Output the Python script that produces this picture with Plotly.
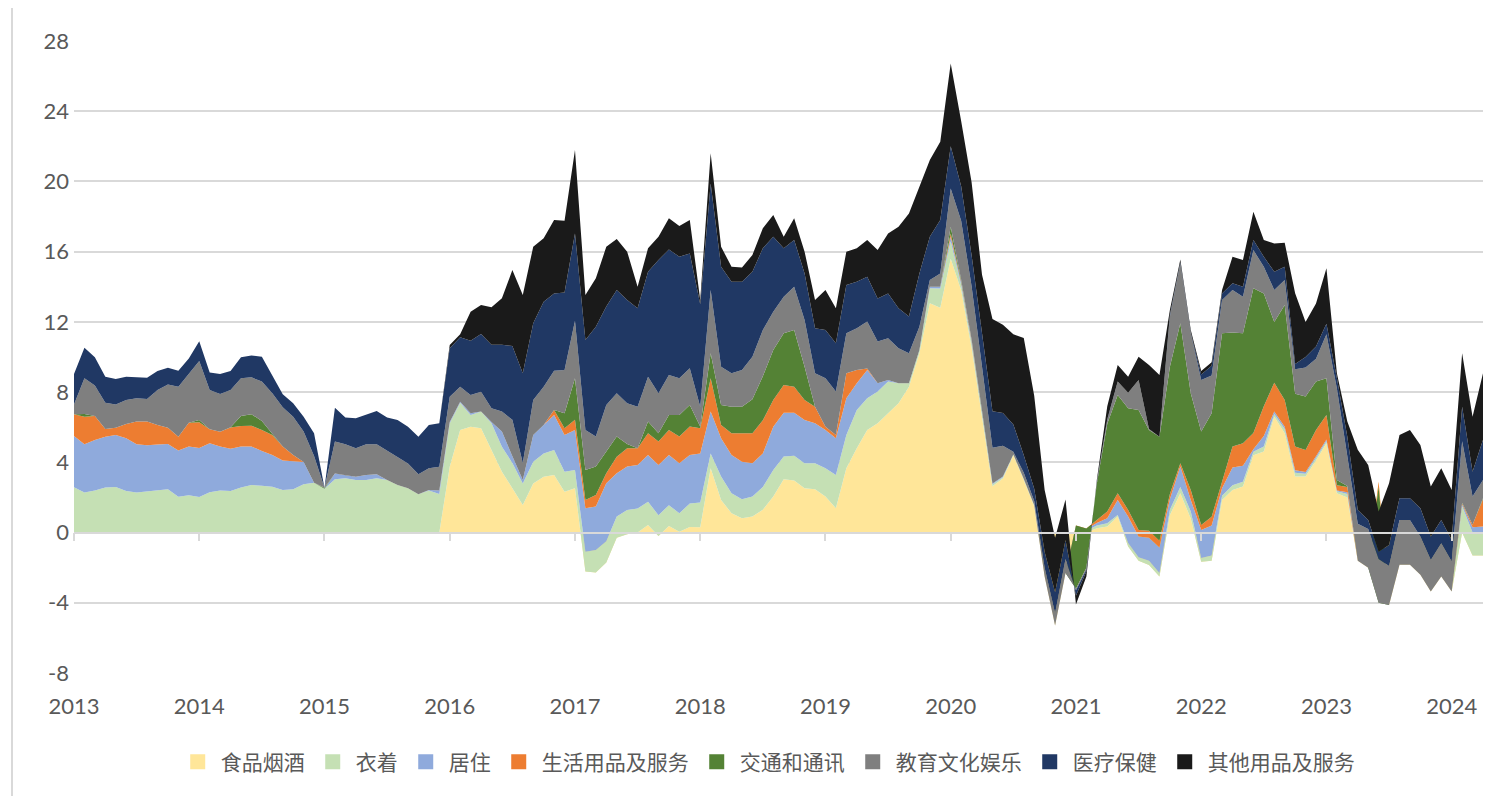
import plotly.graph_objects as go

# ---------------- data (monthly, 2013-01 .. 2024-04) ----------------
months = [f"{y}-{m:02d}" for y in range(2013, 2025) for m in range(1, 13)][:136]
year_labels = ["2013", "2014", "2015", "2016", "2017", "2018", "2019", "2020", "2021", "2022", "2023", "2024"]
y_ticks = [-8, -4, 0, 4, 8, 12, 16, 20, 24, 28]
y_tick_labels = ["-8", "-4", "0", "4", "8", "12", "16", "20", "24", "28"]

names = ["食品烟酒", "衣着", "居住", "生活用品及服务", "交通和通讯", "教育文化娱乐", "医疗保健", "其他用品及服务"]
colors = ["#FFE699", "#C5E0B4", "#8FAADC", "#ED7D31", "#548235", "#7F7F7F", "#203864", "#1A1A1A"]

food = [
    0, 0, 0, 0, 0, 0, 0, 0, 0, 0,
    0, 0, 0, 0, 0, 0, 0, 0, 0, 0,
    0, 0, 0, 0, 0, 0, 0, 0, 0, 0,
    0, 0, 0, 0, 0, 0, 3.75, 5.84, 6.03, 5.94,
    4.70, 3.47, 2.52, 1.57, 2.80, 3.18, 3.28, 2.33, 2.52, -2.22,
    -2.27, -1.70, -0.30, -0.10, 0, 0.43, -0.20, 0.38, 0.05, 0.32,
    0.30, 3.66, 1.86, 1.10, 0.82, 0.91, 1.30, 2.05, 3.04, 2.96,
    2.52, 2.47, 2.05, 1.39, 3.66, 4.80, 5.84, 6.22, 6.79, 7.36,
    8.31, 10.21, 13.06, 12.80, 15.60, 13.80, 10.53, 6.59, 2.64, 3.08,
    4.40, 3.00, 1.50, -2.50, -5.30, -2.30, 0, 0, 0.25, 0.34,
    0.91, -0.80, -1.60, -1.85, -2.50, 1.00, 2.24, 0.80, -1.66, -1.60,
    1.86, 2.43, 2.62, 4.40, 4.61, 6.60, 5.65, 3.20, 3.20, 4.10,
    5.08, 2.24, 2.00, -1.60, -2.00, 2.90, -4.12, -1.84, -1.84, -2.41,
    -3.36, -2.50, -3.36, 0, -1.30, -1.30,
]
clothing = [
    2.58, 2.28, 2.39, 2.56, 2.60, 2.37, 2.28, 2.33, 2.37, 2.46,
    2.04, 2.12, 2.02, 2.29, 2.39, 2.37, 2.56, 2.71, 2.67, 2.61,
    2.43, 2.46, 2.75, 2.84, 2.50, 3.03, 3.09, 3.00, 3.00, 3.09,
    3.00, 2.71, 2.52, 2.18, 2.39, 2.20, 2.47, 1.56, 0.67, 0.95,
    1.52, 1.42, 1.44, 1.23, 1.24, 1.32, 1.42, 1.14, 1.04, 1.13,
    1.27, 1.20, 1.21, 1.38, 1.37, 1.32, 1.19, 1.18, 1.05, 1.33,
    1.41, 0.85, 1.33, 1.14, 1.08, 1.14, 1.30, 1.52, 1.29, 1.41,
    1.43, 1.48, 1.61, 1.89, 1.90, 2.18, 1.81, 1.81, 1.81, 1.14,
    0.19, 0.19, 0.85, 1.10, 1.00, 0.30, 0.27, 0.21, 0.11, 0.07,
    0.05, 0.05, 0.05, 0, 0, 0, 0.20, 0.10, 0.15, 0.19,
    0.09, 0.20, 0.20, 0.25, 0.20, 0.30, 0.36, 0.40, 0.21, 0.30,
    0.24, 0.27, 0.28, 0.20, 0.29, 0.15, 0.25, 0.20, 0.15, 0.15,
    0.12, 0.11, 0.20, 0, 0, 0, 0, 0, 0, 0,
    0, 0, 0, 1.50, 1.30, 1.30,
]
housing = [
    2.92, 2.75, 2.88, 2.90, 2.96, 3.00, 2.75, 2.64, 2.64, 2.59,
    2.63, 2.78, 2.80, 2.80, 2.51, 2.41, 2.34, 2.19, 1.98, 1.81,
    1.67, 1.58, 1.27, 0, 0, 0.34, 0.19, 0.18, 0.28, 0.23,
    0, 0, 0, 0, 0.04, 0.19, 0.08, 0.05, 0.10, 0,
    0.08, 0.86, 0.39, 0.20, 1.52, 1.62, 2.00, 2.09, 2.28, 2.47,
    2.48, 3.31, 2.47, 2.48, 2.48, 2.67, 2.86, 2.86, 2.85, 2.77,
    2.80, 2.38, 2.18, 2.18, 2.14, 1.90, 1.90, 2.46, 2.50, 2.46,
    2.46, 2.27, 2.18, 2.09, 2.09, 1.52, 1.61, 0.47, 0.09, 0,
    0, 0, 0.09, 0.10, 0.25, 0.15, 0.10, 0.05, 0.05, 0.05,
    0, 0, 0, 0, 0, 0, 0.15, 0.10, 0.15, 0.29,
    0.86, 1.51, 1.17, 1.30, 1.45, 0.60, 1.16, 0.66, 1.60, 1.70,
    0.42, 1.00, 0.90, 0.15, 0.60, 0.15, 0.13, 0.15, 0.10, 0.10,
    0.10, 0.05, 0.10, 0, 0, 0, 0, 0, 0, 0,
    0, 0, 0, 0.10, 0.30, 0.35,
]
daily_goods = [
    1.24, 1.57, 1.37, 0.44, 0.41, 0.81, 1.29, 1.35, 1.11, 0.92,
    0.79, 1.36, 1.46, 0.79, 0.84, 1.21, 1.17, 1.19, 1.19, 1.14,
    0.80, 0.38, 0, 0, 0, 0, 0, 0, 0, 0,
    0, 0, 0, 0, 0, 0, 0, 0, 0, 0,
    0, 0, 0, 0, 0, 0, 0.28, 0.38, 0.58, 0.48,
    0.66, 0.57, 0.94, 1.04, 0.95, 1.24, 1.33, 1.42, 1.52, 1.62,
    1.43, 1.90, 0.76, 1.24, 1.62, 1.71, 1.90, 1.52, 1.58, 1.48,
    1.14, 0.95, 0.19, 0.19, 1.42, 0.76, 0.09, 0, 0, 0,
    0, 0, 0, 0, 0.19, 0.05, 0.05, 0.05, 0, 0,
    0, 0, 0, 0, 0, 0, 0.05, 0.03, 0.15, 0.38,
    0.38, 0.38, 0.38, 0.40, 0.39, 0.30, 0.19, 0.57, 0.28, 0.50,
    0.38, 1.20, 1.29, 0.92, 1.70, 1.63, 1.52, 1.35, 1.25, 1.49,
    1.40, 0.30, 0.30, 0, 0, -0.30, 0, 0, 0, 0,
    0, 0, 0, 0.05, 0.15, 1.55,
]
transport = [
    0, 0.16, 0, 0, 0, 0, 0, 0, 0, 0,
    0, 0, 0.13, 0, 0, 0.01, 0.57, 0.65, 0.52, 0.09,
    0, 0, 0, 0, 0.05, 0, 0, 0, 0, 0,
    0, 0, 0, 0, 0, 0, 0, 0, 0, 0,
    0, 0, 0, 0, 0, 0, 0, 0.85, 2.37, 1.70,
    1.62, 1.22, 1.15, 0.25, 0, 0.66, 0.48, 0.86, 1.23, 1.23,
    0.10, 1.42, 1.14, 1.51, 1.51, 1.94, 2.50, 2.85, 2.94, 3.23,
    1.90, 0, 0, 0, 0, 0, 0, 0, 0, 0,
    0, 0, 0, 0, 0.38, 0.10, 0.05, 0.05, 0, 0,
    0, 0, 0, 0, 0, 0, -3.60, -2.23, 2.10, 5.00,
    5.60, 5.79, 6.83, 5.74, 5.92, 7.25, 7.97, 5.50, 5.32, 5.89,
    8.45, 6.50, 6.26, 8.24, 6.42, 3.47, 5.41, 3.00, 3.05, 2.76,
    2.09, 0.30, 0.05, 0, 0, -6.60, 0, 0, 0, 0,
    0, 0, 0, 0.05, 0, 0.05,
]
education = [
    0.56, 2.03, 1.73, 1.50, 1.33, 1.37, 1.33, 1.29, 2.00, 2.47,
    2.85, 2.77, 3.36, 2.24, 2.15, 2.12, 2.15, 2.10, 2.24, 2.28,
    2.24, 2.18, 1.73, 1.52, 0, 1.81, 1.75, 1.62, 1.75, 1.71,
    1.65, 1.61, 1.42, 1.14, 1.23, 1.36, 1.44, 0.86, 1.03, 1.13,
    0.78, 1.14, 2.07, 0.96, 1.99, 2.19, 2.24, 2.47, 3.28, 2.28,
    1.71, 2.67, 2.46, 2.31, 2.37, 2.56, 2.27, 2.28, 2.09, 2.09,
    1.13, 3.61, 2.18, 1.90, 2.09, 2.42, 2.64, 2.18, 2.08, 2.46,
    2.66, 1.90, 2.76, 2.47, 2.28, 2.38, 2.67, 2.38, 2.38, 2.00,
    1.71, 1.33, 0.38, 0.76, 2.18, 3.36, 3.03, 2.49, 2.03, 1.74,
    0.15, 0.35, 0.25, 0.50, 0.70, 0.80, -0.10, -0.10, 0.05, 0.20,
    0.76, 0.89, 1.71, 0.06, 0, 2.85, 3.41, 3.42, 2.94, 2.16,
    1.89, 2.41, 2.08, 2.18, 1.52, 1.81, 1.42, 1.40, 1.65, 1.30,
    2.51, 5.20, 1.65, 2.10, 2.20, 2.50, 2.22, 2.56, 2.56, 2.18,
    1.80, 1.89, 1.71, 3.50, 1.60, 1.04,
]
medical = [
    1.73, 1.74, 1.61, 1.48, 1.45, 1.33, 1.19, 1.21, 1.08, 0.95,
    0.91, 0.89, 1.13, 0.99, 1.14, 1.08, 1.19, 1.24, 1.42, 1.05,
    0.74, 0.76, 0.85, 1.29, 0, 1.93, 1.52, 1.71, 1.70, 1.89,
    1.90, 2.09, 2.09, 2.14, 2.46, 2.47, 2.76, 2.81, 3.10, 3.29,
    3.62, 3.81, 4.20, 5.11, 4.37, 4.84, 4.40, 4.42, 4.97, 5.13,
    6.26, 5.60, 5.89, 5.89, 5.60, 5.98, 7.59, 7.15, 6.92, 6.54,
    5.83, 6.07, 5.69, 5.22, 5.03, 4.84, 4.65, 4.27, 2.76, 2.66,
    2.65, 2.57, 2.75, 2.75, 2.75, 2.65, 2.55, 2.45, 2.55, 2.27,
    2.09, 3.03, 2.47, 3.04, 2.40, 1.97, 1.76, 1.97, 2.08, 1.87,
    1.56, 1.00, 0.70, 0.90, 1.20, 1.08, -0.30, -0.10, 0.05, 0.05,
    0, 0, 0, 0, 0, 0.10, 0.07, 0.05, 0.31, 0.55,
    0.38, 0.39, 0.57, 0.57, 0.57, 1.05, 0.76, 0.30, 0.60, 0.70,
    0.60, 0.60, 1.16, 0.79, 0.52, 0.41, 1.19, 1.24, 1.24, 1.61,
    1.33, 1.33, 1.23, 1.97, 1.42, 2.29,
]
other = [
    0, 0, 0, 0, 0, 0, 0, 0, 0, 0,
    0, 0, 0, 0, 0, 0, 0, 0, 0, 0,
    0, 0, 0, 0, 0, 0, 0, 0, 0, 0,
    0, 0, 0, 0, 0, 0, 0.18, 0.18, 1.65, 1.65,
    2.14, 2.64, 4.33, 4.46, 4.36, 3.61, 4.18, 4.08, 4.75, 2.56,
    2.75, 3.41, 2.90, 2.75, 1.23, 1.33, 1.33, 1.77, 1.75, 1.90,
    0.25, 1.71, 1.14, 0.85, 0.81, 0.95, 1.14, 1.24, 0.66, 1.24,
    1.24, 1.60, 2.27, 1.99, 1.90, 1.90, 2.09, 2.77, 3.42, 4.65,
    5.88, 4.94, 4.37, 4.46, 4.72, 3.72, 4.16, 3.28, 5.26, 5.03,
    5.14, 6.68, 5.29, 3.53, 3.10, 2.30, -0.50, -0.30, 0.10, 0.75,
    0.94, 0.91, 1.33, 3.64, 3.52, 0.28, 0.16, 0.14, 0.20, 0.20,
    0.19, 1.51, 1.52, 1.62, 0.95, 1.61, 1.37, 4.03, 2.00, 2.45,
    3.15, 0.27, 0.86, 3.42, 3.13, 2.29, 3.52, 3.59, 3.88, 3.61,
    2.85, 2.94, 2.84, 3.04, 3.13, 3.79,
]

series = [food, clothing, housing, daily_goods, transport, education, medical, other]

# ---------------- figure ----------------
x = list(range(len(months)))
year_pos = [months.index(f"{y}-01") for y in year_labels]

GRID = "#D9D9D9"
TEXT = "#595959"

fig = go.Figure()
for name, vals, col in zip(names, series, colors):
    fig.add_trace(go.Scatter(
        x=x, y=vals, name=name, stackgroup="one", mode="lines",
        line=dict(width=0, color=col), fillcolor=col,
        showlegend=False, hoverinfo="skip",
    ))

# legend swatches (square markers)
for name, col in zip(names, colors):
    fig.add_trace(go.Scatter(
        x=[None], y=[None], name=name, mode="markers",
        marker=dict(symbol="square", size=15, color=col),
        showlegend=True, hoverinfo="skip",
    ))

# helper trace so the axis line with tick marks is drawn at y = 0
fig.add_trace(go.Scatter(x=[None], y=[None], xaxis="x2", showlegend=False, hoverinfo="skip"))

# the page adds an 8 px body margin, so the figure is 8 px smaller and margins are shifted
fig.update_layout(
    width=1495, height=788,
    margin=dict(l=66, r=20, t=33, b=123),
    paper_bgcolor="white", plot_bgcolor="white",
    font=dict(family="Lato, 'Noto Sans CJK SC', sans-serif", color=TEXT),
    xaxis=dict(
        type="linear", range=[0, len(months) - 1],
        tickvals=year_pos, ticktext=year_labels,
        showgrid=False, zeroline=False, showline=False, ticks="",
        tickfont=dict(size=22, color=TEXT, family="Lato"),
        ticklabelstandoff=18,
    ),
    xaxis2=dict(
        type="linear", range=[0, len(months) - 1], overlaying="x",
        anchor="free", position=8 / 36, side="bottom",
        tickvals=year_pos, ticks="outside", ticklen=8, tickwidth=1.5, tickcolor=GRID,
        showline=True, linecolor=GRID, linewidth=1.5,
        showticklabels=False, showgrid=False, zeroline=False,
    ),
    yaxis=dict(
        range=[-8, 28], tickvals=y_ticks, ticktext=y_tick_labels,
        showgrid=True, gridcolor=GRID, gridwidth=1.5,
        zeroline=False, showline=False, ticks="",
        tickfont=dict(size=22, color=TEXT, family="Lato"),
        ticklabelstandoff=4,
    ),
    legend=dict(
        orientation="h", x=0.492, xanchor="center", y=-0.141, yanchor="middle",
        font=dict(size=21, color=TEXT, family="'Noto Sans CJK SC', sans-serif"),
        itemwidth=36, traceorder="normal", bgcolor="rgba(0,0,0,0)",
    ),
    shapes=[dict(
        type="line", xref="paper", yref="paper",
        x0=-62 / 1409, x1=-62 / 1409, y0=-123 / 632, y1=1 + 41 / 632,
        line=dict(color=GRID, width=2),
    )],
)

fig.write_html("out.html")
